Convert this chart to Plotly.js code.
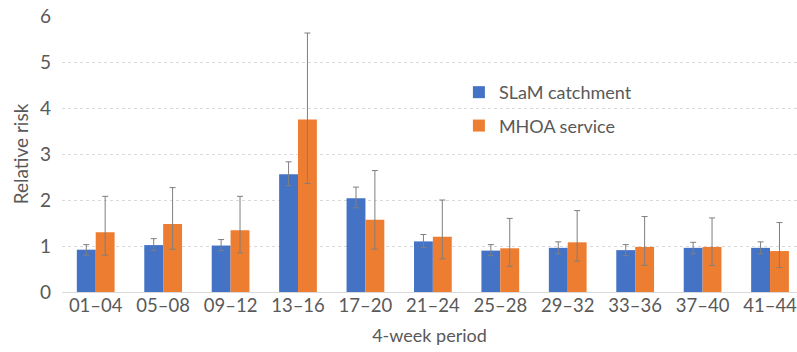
<!DOCTYPE html>
<html><head><meta charset="utf-8">
<script src="https://cdn.plot.ly/plotly-3.0.1.min.js"></script>
<style>html,body{margin:0;padding:0;background:#fff}#chart{width:797px;height:352px}</style>
</head><body><div id="chart"></div>
<script>
const periods = ["01–04","05–08","09–12","13–16","17–20","21–24","25–28","29–32","33–36","37–40","41–44"];
const slamRR   = [0.92,1.02,1.01,2.56,2.04,1.10,0.90,0.96,0.91,0.96,0.96];
const slamHi   = [1.03,1.16,1.14,2.83,2.28,1.25,1.03,1.09,1.03,1.08,1.09];
const slamLo   = [0.80,0.90,0.90,2.31,1.83,0.97,0.79,0.83,0.79,0.83,0.83];
const mhoaRR   = [1.30,1.48,1.34,3.75,1.57,1.20,0.95,1.08,0.98,0.98,0.89];
const mhoaHi   = [2.08,2.27,2.08,5.63,2.64,2.00,1.60,1.77,1.64,1.61,1.51];
const mhoaLo   = [0.80,0.93,0.85,2.36,0.93,0.72,0.56,0.67,0.58,0.58,0.53];

const up = (hi, v) => hi.map((h,i)=>+(h - v[i]).toFixed(3));
const dn = (lo, v) => lo.map((l,i)=>+(v[i] - l).toFixed(3));
const errStyle = {type:'data', symmetric:false, color:'#7f7f7f', thickness:1, width:3};

const traces = [
  {type:'bar', name:'SLaM catchment', legendgroup:'a', x:periods, y:slamRR, marker:{color:'#4472C4'},
   error_y:Object.assign({array:up(slamHi,slamRR), arrayminus:dn(slamLo,slamRR)}, errStyle)},
  {type:'bar', name:'MHOA service', legendgroup:'b', x:periods, y:mhoaRR, marker:{color:'#ED7D31'},
   error_y:Object.assign({array:up(mhoaHi,mhoaRR), arrayminus:dn(mhoaLo,mhoaRR)}, errStyle)}
];

const layout = {
  width:797, height:352,
  margin:{l:62, r:0, t:16, b:60},
  paper_bgcolor:'#fff', plot_bgcolor:'#fff',
  font:{family:'Lato, "Open Sans", sans-serif', size:18, color:'#595959'},
  barmode:'group', bargap:0.44, bargroupgap:0,
  xaxis:{range:[-0.5,10.4], showgrid:false, ticks:'', showline:false, zeroline:false,
         tickfont:{size:18.5, color:'#595959'},
         title:{text:'4-week period', font:{size:18, color:'#595959'}, standoff:14}},
  yaxis:{range:[0,6], dtick:1, showline:false, ticks:'',
         gridcolor:'#d9d9d9', griddash:'dot', gridwidth:1,
         zeroline:true, zerolinecolor:'#d9d9d9', zerolinewidth:1,
         tickfont:{size:19, color:'#595959'}, ticklabelstandoff:10,
         title:{text:'Relative risk', font:{size:19, color:'#595959'}, standoff:6}},
  showlegend:true,
  legend:{x:0.54, y:0.79, xanchor:'left', yanchor:'top', bgcolor:'rgba(0,0,0,0)',
          font:{size:18, color:'#595959'}, tracegroupgap:7, itemwidth:30}
};
Plotly.newPlot('chart', traces, layout, {displayModeBar:false, staticPlot:true});
</script></body></html>
